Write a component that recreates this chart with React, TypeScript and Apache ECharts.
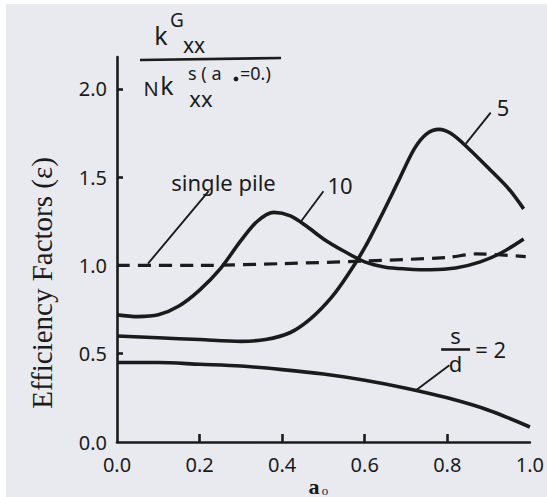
import React, { useEffect, useRef } from "react";
import * as echarts from "echarts";

// a0 (dimensionless frequency) vs efficiency factor
const curveSd2: [number, number][] = [
  [0, 0.45], [0.1, 0.45], [0.2, 0.44], [0.3, 0.43], [0.4, 0.41], [0.5, 0.385],
  [0.6, 0.35], [0.7, 0.305], [0.8, 0.25], [0.9, 0.18], [1.0, 0.085],
];
const curveSd5: [number, number][] = [
  [0, 0.6], [0.1, 0.59], [0.2, 0.58], [0.3, 0.57], [0.36, 0.58], [0.42, 0.62],
  [0.47, 0.7], [0.52, 0.82], [0.56, 0.95], [0.6, 1.1], [0.64, 1.28], [0.68, 1.47],
  [0.72, 1.66], [0.75, 1.745], [0.78, 1.77], [0.81, 1.745], [0.85, 1.665],
  [0.9, 1.55], [0.95, 1.43], [0.985, 1.32],
];
const curveSd10: [number, number][] = [
  [0, 0.72], [0.05, 0.71], [0.1, 0.72], [0.15, 0.77], [0.2, 0.86], [0.25, 0.98],
  [0.3, 1.14], [0.34, 1.25], [0.38, 1.3], [0.42, 1.28], [0.46, 1.22], [0.5, 1.15],
  [0.55, 1.08], [0.6, 1.02], [0.65, 0.99], [0.7, 0.98], [0.76, 0.975],
  [0.82, 0.985], [0.88, 1.02], [0.93, 1.07], [0.985, 1.15],
];
const singlePile: [number, number][] = [
  [0, 1.0], [0.2, 1.0], [0.4, 1.01], [0.6, 1.025], [0.8, 1.045], [0.87, 1.065], [0.99, 1.05],
];
const yTicks = [0, 0.5, 1.0, 1.5, 2.0];
const xTicks = [0, 0.2, 0.4, 0.6, 0.8, 1.0];

// annotation anchors (data space)
const labelTexts = [
  { text: "single pile", at: [0.258, 1.475] },
  { text: "10", at: [0.54, 1.455] },
  { text: "5", at: [0.935, 1.895] },
  { text: "s", at: [0.82, 0.605] },
  { text: "d", at: [0.82, 0.45] },
  { text: "= 2", at: [0.905, 0.525] },
];
const arrows = [
  { from: [0.222, 1.42], to: [0.075, 1.01] },
  { from: [0.5, 1.42], to: [0.446, 1.25] },
  { from: [0.905, 1.865], to: [0.845, 1.69] },
  { from: [0.805, 0.435], to: [0.725, 0.295] },
];
const fractionBar = { from: [0.785, 0.528], to: [0.855, 0.528] };

const INK = "#1b1b1b";
const FONT = "'Noto Sans', 'DejaVu Sans', sans-serif";
const SERIF = "'Liberation Serif', 'DejaVu Serif', serif";

export default function App() {
  const ref = useRef<HTMLDivElement>(null);
  useEffect(() => {
    if (!ref.current) return;
    const chart = echarts.init(ref.current, undefined, { renderer: "svg" });
    const lineStyle = { color: INK, width: 3.6 };
    const t = (x: number, y: number, text: string, size: number, align = "center") => ({
      type: "text", x, y,
      style: { text, font: `${size}px ${FONT}`, lineHeight: size, fill: INK, align, verticalAlign: "middle" },
    });
    chart.setOption({
      animation: false,
      backgroundColor: "#ffffff",
      grid: { left: 117, right: 13, top: 57, bottom: 55, containLabel: false },
      xAxis: {
        type: "value",
        min: 0,
        max: 1.0,
        interval: 0.2,
        axisLine: { lineStyle: { color: INK, width: 2.6 } },
        axisTick: { inside: true, length: 8, lineStyle: { color: INK, width: 2.6 }, customValues: xTicks.slice(1, 5) },
        axisLabel: {
          customValues: xTicks,
          formatter: (v: number) => v.toFixed(1),
          color: INK,
          fontSize: 20,
          fontFamily: FONT,
          margin: 12,
        },
        splitLine: { show: false },
      },
      yAxis: {
        type: "value",
        min: 0,
        max: 2.18,
        interval: 0.5,
        axisLine: { show: true, lineStyle: { color: INK, width: 2.6 } },
        axisTick: { show: true, inside: true, length: 6, lineStyle: { color: INK, width: 2.6 }, customValues: yTicks.slice(1) },
        axisLabel: {
          customValues: yTicks,
          formatter: (v: number) => v.toFixed(1),
          color: INK,
          fontSize: 20,
          fontFamily: FONT,
          margin: 10,
        },
        splitLine: { show: false },
      },
      graphic: [
        { type: "rect", z: -10, shape: { x: 6, y: 4, width: 547, height: 497 }, style: { fill: "#e9eaf0" } },
        {
          type: "text", x: 42, y: 283, rotation: Math.PI / 2,
          style: { text: "Efficiency Factors (\u03b5)", font: `29px ${SERIF}`, fill: INK, align: "center", verticalAlign: "middle" },
        },
        { type: "text", x: 314, y: 475, style: { text: "a", font: `bold 22px ${SERIF}`, fill: INK, align: "center", verticalAlign: "top" } },
        { type: "text", x: 325, y: 484, style: { text: "o", font: `13px ${SERIF}`, fill: INK, align: "center", verticalAlign: "top" } },
        // fraction label  k^G_xx / N k^{s(a0=0)}_xx
        t(161, 35, "k", 25),
        t(177, 20, "G", 19),
        t(194, 45, "xx", 21),
        { type: "line", shape: { x1: 140, y1: 60, x2: 281, y2: 58 }, style: { stroke: INK, lineWidth: 2.6 } },
        t(151, 88, "N", 20),
        t(167, 85, "k", 25),
        t(188, 73, "s ( a", 18, "left"),
        { type: "circle", shape: { cx: 236, cy: 79, r: 2.4 }, style: { fill: INK } },
        t(240, 73, "=0.)", 18, "left"),
        t(201, 98, "xx", 22),
      ],
      series: [
        { type: "line", data: curveSd2, showSymbol: false, smooth: 0.3, lineStyle, z: 3 },
        { type: "line", data: curveSd5, showSymbol: false, smooth: 0.3, lineStyle, z: 3 },
        { type: "line", data: curveSd10, showSymbol: false, smooth: 0.3, lineStyle, z: 3 },
        {
          type: "line", data: singlePile, showSymbol: false, smooth: 0.3,
          lineStyle: { color: INK, width: 3.2, type: [13, 8] }, z: 3,
        },
        {
          type: "scatter",
          data: [],
          silent: true,
          markLine: {
            silent: true,
            animation: false,
            symbol: ["none", "arrow"],
            symbolSize: [0, 11],
            label: { show: false },
            lineStyle: { color: INK, width: 1.9, type: "solid" },
            data: [
              ...arrows.map((a) => [{ coord: a.from }, { coord: a.to }]),
              [
                { coord: fractionBar.from, symbol: "none" },
                { coord: fractionBar.to, symbol: "none", lineStyle: { width: 2.6 } },
              ],
            ],
          },
          markPoint: {
            silent: true,
            symbol: "circle",
            symbolSize: 0,
            data: labelTexts.map((l) => ({
              coord: l.at,
              label: {
                show: true,
                position: "inside",
                formatter: l.text,
                color: INK,
                fontSize: 22,
                lineHeight: 22,
                fontFamily: FONT,
              },
            })),
          },
        },
      ],
    });
    return () => chart.dispose();
  }, []);
  return <div ref={ref} style={{ position: "fixed", left: 0, top: 0, width: 547, height: 497 }} />;
}
